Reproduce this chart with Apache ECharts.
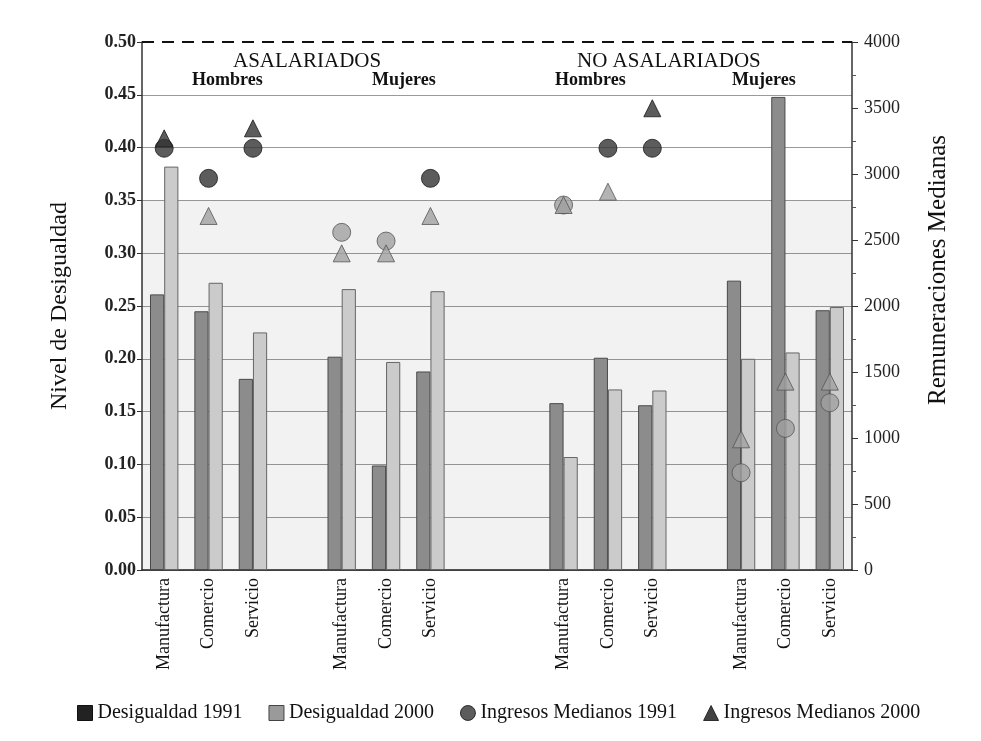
<!DOCTYPE html>
<html>
<head>
<meta charset="utf-8">
<script src="https://cdn.jsdelivr.net/npm/echarts@6/dist/echarts.min.js"></script>
<style>
html,body{margin:0;padding:0;background:#fff;}
#chart{width:981px;height:741px;}
</style>
</head>
<body>
<div id="chart"></div>
<script>
const categories = ['Manufactura','Comercio','Servicio','','Manufactura','Comercio','Servicio','','','Manufactura','Comercio','Servicio','','Manufactura','Comercio','Servicio'];
const desigualdad1991 = [0.261,0.245,0.181,null,0.202,0.099,0.188,null,null,0.158,0.201,0.156,null,0.274,0.448,0.246];
const desigualdad2000 = [0.382,0.272,0.225,null,0.266,0.197,0.264,null,null,0.107,0.171,0.170,null,0.200,0.206,0.249];
const ingresos1991 = [3195,2967,3195,null,2558,2492,2967,null,null,2765,3195,3195,null,737,1073,1267];
const ingresos2000 = [3270,2682,3346,null,2399,2399,2682,null,null,2765,2866,3498,null,990,1427,1427];
const leftTicks = {min:0, max:0.5, interval:0.05};
const rightTicks = {min:0, max:4000, interval:500};

const FONT = "'Liberation Serif','DejaVu Serif',serif";

// Marker tone follows the printed reference: dark in the upper band, grey lower down.
function markerData(values) {
  return values.map(v => {
    if (v === null) return null;
    const dark = v >= 2900;
    return {
      value: v,
      itemStyle: {
        color: dark ? '#333333' : '#a0a0a0',
        borderColor: dark ? '#1a1a1a' : '#555555',
        borderWidth: 1
      }
    };
  });
}

const gridColors = [];
for (let i = 0; i < 10; i++) gridColors.push('#9a9a9a');
gridColors.push('rgba(0,0,0,0)');

const chart = echarts.init(document.getElementById('chart'));
chart.setOption({
  backgroundColor: '#ffffff',
  animation: false,
  textStyle: {fontFamily: FONT, color: '#111'},
  grid: {left: 142, right: 129, top: 42, bottom: 171},
  legend: {
    left: 77, top: 703, padding: 0, itemWidth: 15, itemHeight: 15, itemGap: 26,
    textStyle: {fontFamily: FONT, fontSize: 20, color: '#111'},
    data: [
      {name: 'Desigualdad 1991', icon: 'rect', itemStyle: {color: '#222', borderColor: '#111', borderWidth: 1}},
      {name: 'Desigualdad 2000', icon: 'rect', itemStyle: {color: '#9a9a9a', borderColor: '#444', borderWidth: 1}},
      {name: 'Ingresos Medianos 1991', icon: 'circle', itemStyle: {color: '#333', borderColor: '#111', borderWidth: 1}},
      {name: 'Ingresos Medianos 2000', icon: 'triangle', itemStyle: {color: '#111', borderColor: '#111', borderWidth: 1}}
    ]
  },
  xAxis: {
    type: 'category', data: categories, boundaryGap: true,
    axisLine: {lineStyle: {color: '#222', width: 1.5}},
    axisTick: {interval: 0, alignWithLabel: false, length: 5, lineStyle: {color: '#444'}},
    axisLabel: {interval: 0, rotate: 90, fontFamily: FONT, fontSize: 18, color: '#111', margin: 8}
  },
  yAxis: [
    {
      type: 'value', min: leftTicks.min, max: leftTicks.max, interval: leftTicks.interval,
      name: 'Nivel de Desigualdad', nameLocation: 'middle', nameRotate: 90, nameGap: 70,
      nameTextStyle: {fontFamily: FONT, fontSize: 24, color: '#111'},
      axisLine: {show: true, lineStyle: {color: '#333', width: 1.5}},
      axisTick: {show: true, length: 5, lineStyle: {color: '#333'}},
      axisLabel: {formatter: v => v.toFixed(2), fontFamily: FONT, fontSize: 18, fontWeight: 'bold', color: '#222', margin: 6},
      splitLine: {show: true, lineStyle: {color: gridColors, width: 1}}
    },
    {
      type: 'value', min: rightTicks.min, max: rightTicks.max, interval: rightTicks.interval,
      axisLine: {show: true, lineStyle: {color: '#333', width: 1.5}},
      axisTick: {show: true, length: 6, lineStyle: {color: '#333'}},
      minorTick: {show: true, splitNumber: 2, length: 4, lineStyle: {color: '#555'}},
      axisLabel: {formatter: v => String(v), fontFamily: FONT, fontSize: 18, color: '#222', margin: 12},
      splitLine: {show: false}
    }
  ],
  series: [
    {
      name: 'shade', type: 'line', data: [], z: 1, silent: true,
      markArea: {silent: true, itemStyle: {color: 'rgba(0,0,0,0.05)'}, data: [[{yAxis: 0}, {yAxis: 0.35}]]}
    },
    {
      name: 'Desigualdad 1991', type: 'bar', data: desigualdad1991, yAxisIndex: 0,
      barGap: '0%', barCategoryGap: '36%',
      itemStyle: {color: '#8c8c8c', borderColor: '#4a4a4a', borderWidth: 1},
      markLine: {
        silent: true, symbol: 'none', label: {show: false},
        lineStyle: {color: '#111', width: 2, type: [12, 8]},
        data: [{yAxis: 0.5}]
      }
    },
    {
      name: 'Desigualdad 2000', type: 'bar', data: desigualdad2000, yAxisIndex: 0,
      itemStyle: {color: '#cbcbcb', borderColor: '#666', borderWidth: 1}
    },
    {
      name: 'Ingresos Medianos 1991', type: 'scatter', data: markerData(ingresos1991), yAxisIndex: 1,
      symbol: 'circle', symbolSize: 18, z: 5
    },
    {
      name: 'Ingresos Medianos 2000', type: 'scatter', data: markerData(ingresos2000), yAxisIndex: 1,
      symbol: 'triangle', symbolSize: 17, z: 6
    }
  ],
  graphic: [
    {type: 'text', left: 233, top: 51, style: {text: 'ASALARIADOS', font: "21px " + FONT, fill: '#111'}},
    {type: 'text', left: 192, top: 71, style: {text: 'Hombres', font: "bold 18px " + FONT, fill: '#111'}},
    {type: 'text', left: 372, top: 71, style: {text: 'Mujeres', font: "bold 18px " + FONT, fill: '#111'}},
    {type: 'text', left: 577, top: 51, style: {text: 'NO ASALARIADOS', font: "21px " + FONT, fill: '#111'}},
    {type: 'text', left: 555, top: 71, style: {text: 'Hombres', font: "bold 18px " + FONT, fill: '#111'}},
    {type: 'text', left: 732, top: 71, style: {text: 'Mujeres', font: "bold 18px " + FONT, fill: '#111'}},
    {type: 'text', x: 938, y: 270, rotation: Math.PI / 2,
     style: {text: 'Remuneraciones Medianas', font: "25px " + FONT, fill: '#111', align: 'center', verticalAlign: 'middle'}}
  ]
});
</script>
</body>
</html>
